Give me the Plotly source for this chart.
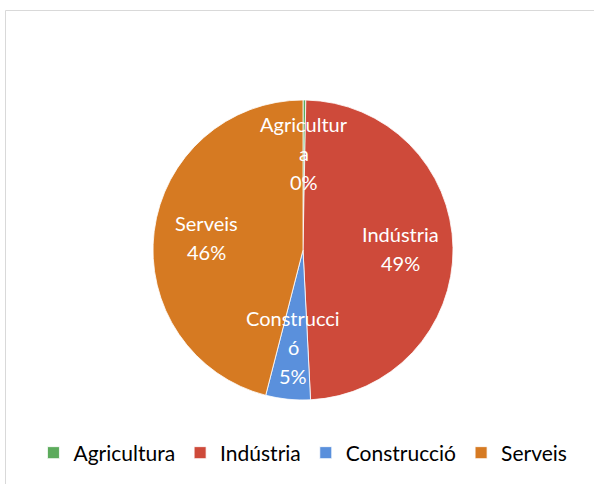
import math
import plotly.graph_objects as go

# ---- data ----
categories = ["Agricultura", "Indústria", "Construcció", "Serveis"]
values = [0.3, 48.9, 4.8, 46.0]
label_lines = [["Agricultur", "a"], ["Indústria"], ["Construcci", "ó"], ["Serveis"]]
colors = ["#5CAB5C", "#CE4A3A", "#5A90DC", "#D67A22"]

W, H = 594, 484
cx, cy, R = 303, 250, 150

fig = go.Figure()
fig.add_trace(go.Pie(
    labels=categories,
    values=values,
    sort=False,
    direction="clockwise",
    rotation=0,
    textinfo="none",
    marker=dict(colors=colors, line=dict(color="white", width=0.8)),
    domain=dict(x=[(cx - R) / W, (cx + R) / W], y=[1 - (cy + R) / H, 1 - (cy - R) / H]),
    hoverinfo="label+percent",
))

# data labels placed at the mid-angle of each slice
total = sum(values)
cum = 0.0
lh = 29
for cat, v, lines in zip(categories, values, label_lines):
    mid = (cum + v / 2) / total
    cum += v
    ang = 2 * math.pi * mid
    r = 0.65 * R
    px = cx + r * math.sin(ang)
    py = cy - r * math.cos(ang)
    pct = f"{round(v / total * 100)}%"
    all_lines = lines + [pct]
    n = len(all_lines)
    for i, t in enumerate(all_lines):
        ly = py + (i - (n - 1) / 2) * lh
        fig.add_annotation(
            x=px / W, y=1 - ly / H, xref="paper", yref="paper",
            text=t, showarrow=False,
            font=dict(family="Lato", size=20, color="white"),
            xanchor="center", yanchor="middle",
        )

fig.add_shape(type="rect", xref="paper", yref="paper",
              x0=5.5 / W, x1=1.2, y0=-0.2, y1=1 - 10.5 / H,
              line=dict(color="#D9D9D9", width=1), fillcolor="rgba(0,0,0,0)")

fig.update_layout(
    width=W, height=H,
    margin=dict(l=0, r=0, t=0, b=0, autoexpand=False),
    paper_bgcolor="white",
    plot_bgcolor="white",
    font=dict(family="Lato", size=21, color="#000000"),
    legend=dict(orientation="h", x=0.51, xanchor="center", y=1 - 453 / H, yanchor="middle",
                font=dict(family="Lato", size=21, color="#000000"),
                itemclick=False, traceorder="normal", itemwidth=30),
    showlegend=True,
)

fig.write_html("out.html", config={"displayModeBar": False},
               post_script="document.body.style.margin='0';document.body.style.overflow='hidden';")
